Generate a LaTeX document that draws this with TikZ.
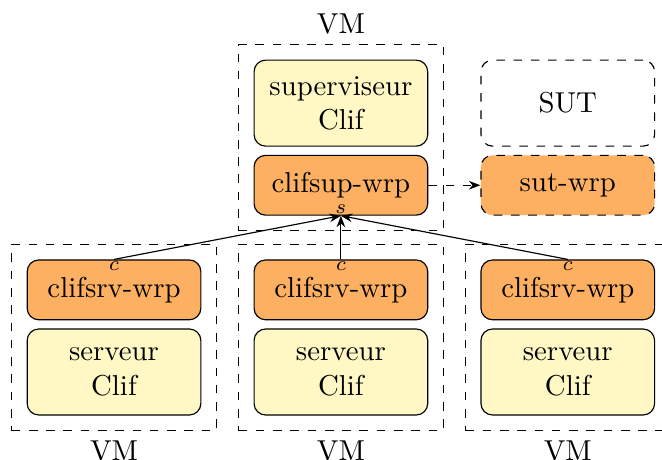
\documentclass[tikz,border=0pt]{standalone}
\usepackage{tikz}
\usetikzlibrary{positioning, fit, arrows.meta}

\definecolor{jaune}{RGB}{255,248,196}
\definecolor{orangec}{RGB}{253,176,98}

\tikzset{
    clif/.style={draw, rounded corners=4pt, fill=jaune, align=center, minimum width=2.12cm, minimum height=1.05cm},
    wrp/.style={draw, rounded corners=4pt, fill=orangec, minimum width=2.12cm, minimum height=0.73cm},
    vm/.style={draw, dashed, inner sep=5.2pt, label distance=-1pt},
}

\begin{document}
\begin{tikzpicture}

    \useasboundingbox (-4.162,1.259) rectangle (3.92,-4.355);

    \node (sup) [clif] at (0,0) {superviseur\\Clif};
    \node (supwrp) [wrp, below=2.8pt of sup, label={[anchor=south, inner sep=0.5pt, font=\scriptsize]south:$s$}] {clifsup-wrp};
    \node (vmsup) [vm, fit=(sup)(supwrp), label=above:VM] {};

    \node (sut) [clif, fill=none, dashed] at (2.77,0) {SUT};
    \node (sutwrp) [wrp, dashed, below=2.8pt of sut] {sut-wrp};
    \draw [dashed, -{Stealth[length=4pt]}] (supwrp.east) -- (sutwrp.west);

    \foreach \x [count=\i from 1] in {-2.77,0,2.77} {
        \node (srvwrp\i) [wrp, label={[anchor=north, inner sep=0.5pt, font=\scriptsize]north:$c$}] at (\x,-2.28) {clifsrv-wrp};
        \node (srv\i) [clif, below=2.8pt of srvwrp\i] {serveur\\Clif};
        \node (vm\i) [vm, fit=(srvwrp\i)(srv\i), label=below:VM] {};
        \draw [-{Stealth[length=4pt]}] (srvwrp\i.north) -- (supwrp.south);
    }

\end{tikzpicture}
\end{document}
